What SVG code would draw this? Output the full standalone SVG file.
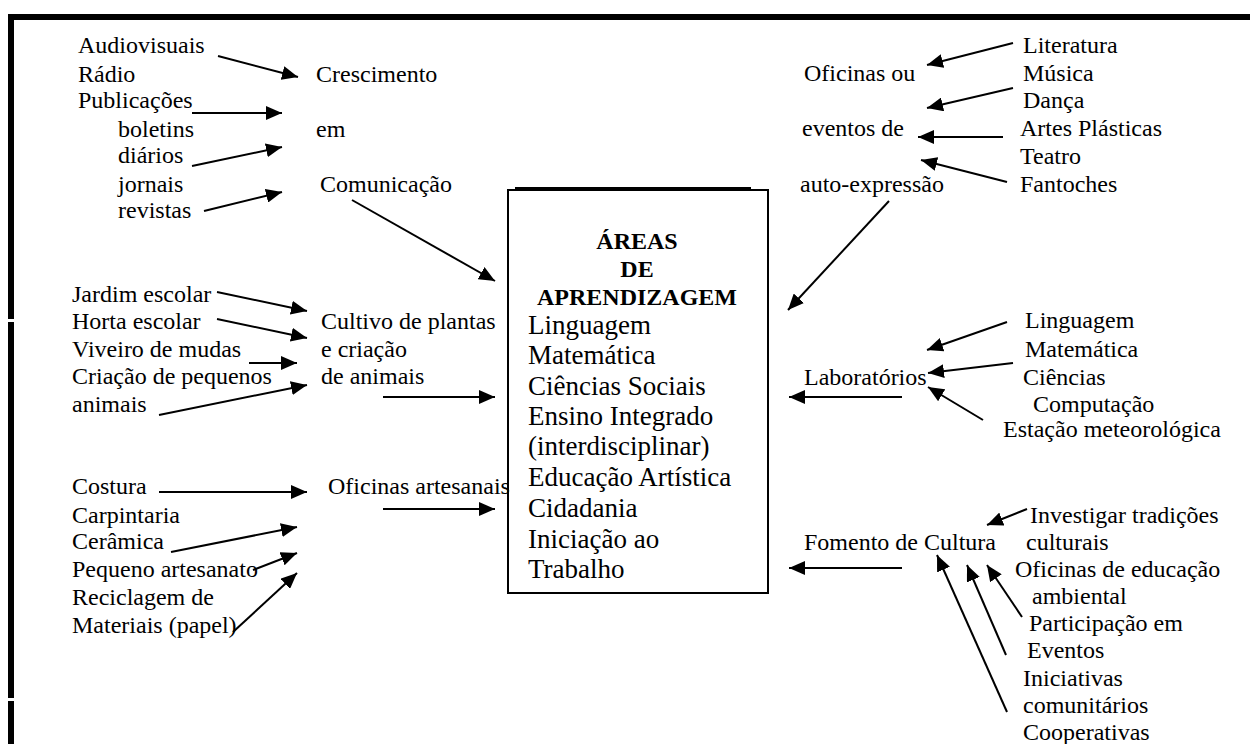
<svg xmlns="http://www.w3.org/2000/svg" width="1250" height="744" viewBox="0 0 1250 744">
<style>
text{font-family:"Liberation Serif","Times New Roman",serif;font-size:24px;fill:#000}
.big{font-size:27px}
.bold{font-weight:bold;font-size:24px}
.c line{stroke:#000;stroke-width:2;marker-end:url(#ah)}
.frame{fill:#000}
</style>
<defs>
<marker id="ah" markerUnits="userSpaceOnUse" markerWidth="17" markerHeight="14" refX="16" refY="7" orient="auto">
<path d="M0,0 L16,7 L0,14 z" fill="#000"/>
</marker>
</defs>
<rect width="1250" height="744" fill="#fff"/>
<g id="frame">
<rect class="frame" x="8" y="14" width="1242" height="6"/>
<rect class="frame" x="8" y="14" width="6" height="305"/>
<rect class="frame" x="8" y="322" width="6" height="376"/>
<rect class="frame" x="8" y="701" width="6" height="43"/>
</g>
<g id="comunicacao-fontes">
<text x="78" y="53">Audiovisuais</text>
<text x="78" y="82">Rádio</text>
<text x="78" y="108">Publicações</text>
<text x="118" y="137">boletins</text>
<text x="118" y="163">diários</text>
<text x="118" y="192">jornais</text>
<text x="118" y="218">revistas</text>
</g>
<g id="crescimento-comunicacao">
<text x="316" y="82">Crescimento</text>
<text x="316" y="137">em</text>
<text x="320" y="192">Comunicação</text>
</g>
<g id="expressao-fontes">
<text x="1023" y="53">Literatura</text>
<text x="1023" y="81">Música</text>
<text x="1023" y="108">Dança</text>
<text x="1020" y="136">Artes Plásticas</text>
<text x="1020" y="164">Teatro</text>
<text x="1020" y="192">Fantoches</text>
</g>
<g id="oficinas-expressao">
<text x="804" y="81">Oficinas ou</text>
<text x="802" y="136">eventos de</text>
<text x="800" y="192">auto-expressão</text>
</g>
<g id="areas">
<rect x="508" y="190" width="260" height="403" fill="none" stroke="#000" stroke-width="2"/>
<line x1="515" y1="188" x2="751" y2="188" stroke="#000" stroke-width="2"/>
<text class="bold" x="637" y="249" text-anchor="middle">ÁREAS</text>
<text class="bold" x="637" y="277" text-anchor="middle">DE</text>
<text class="bold" x="637" y="305" text-anchor="middle">APRENDIZAGEM</text>
<text class="big" x="528" y="334">Linguagem</text>
<text class="big" x="528" y="364">Matemática</text>
<text class="big" x="528" y="395">Ciências Sociais</text>
<text class="big" x="528" y="425">Ensino Integrado</text>
<text class="big" x="528" y="455">(interdisciplinar)</text>
<text class="big" x="528" y="486">Educação Artística</text>
<text class="big" x="528" y="517">Cidadania</text>
<text class="big" x="528" y="548">Iniciação ao</text>
<text class="big" x="528" y="578">Trabalho</text>
</g>
<g id="cultivo-fontes">
<text x="72" y="302">Jardim escolar</text>
<text x="72" y="329">Horta escolar</text>
<text x="72" y="357">Viveiro de mudas</text>
<text x="72" y="384">Criação de pequenos</text>
<text x="72" y="412">animais</text>
</g>
<g id="cultivo">
<text x="321" y="329">Cultivo de plantas</text>
<text x="321" y="357">e criação</text>
<text x="321" y="384">de animais</text>
</g>
<g id="laboratorios-fontes">
<text x="1025" y="328">Linguagem</text>
<text x="1025" y="357">Matemática</text>
<text x="1023" y="385">Ciências</text>
<text x="1033" y="412">Computação</text>
<text x="1003" y="437">Estação meteorológica</text>
</g>
<g id="laboratorios">
<text x="804" y="385">Laboratórios</text>
</g>
<g id="artesanato-fontes">
<text x="72" y="494">Costura</text>
<text x="72" y="523">Carpintaria</text>
<text x="72" y="549">Cerâmica</text>
<text x="72" y="577">Pequeno artesanato</text>
<text x="72" y="605">Reciclagem de</text>
<text x="72" y="633">Materiais (papel)</text>
</g>
<g id="oficinas-artesanais">
<text x="328" y="494">Oficinas artesanais</text>
</g>
<g id="cultura-fontes">
<text x="1030" y="523">Investigar tradições</text>
<text x="1026" y="550">culturais</text>
<text x="1015" y="577">Oficinas de educação</text>
<text x="1032" y="604">ambiental</text>
<text x="1029" y="631">Participação em</text>
<text x="1027" y="658">Eventos</text>
<text x="1023" y="686">Iniciativas</text>
<text x="1023" y="713">comunitários</text>
<text x="1023" y="740">Cooperativas</text>
</g>
<g id="fomento-cultura">
<text x="804" y="550">Fomento de Cultura</text>
</g>
<g id="connectors" class="c">
<line x1="218" y1="56" x2="298" y2="77"/>
<line x1="192" y1="113" x2="282" y2="113"/>
<line x1="192" y1="166" x2="282" y2="147"/>
<line x1="204" y1="211" x2="282" y2="192"/>
<line x1="352" y1="200" x2="495" y2="281"/>
<line x1="1013" y1="43" x2="927" y2="65"/>
<line x1="1013" y1="88" x2="927" y2="108"/>
<line x1="1003" y1="137" x2="918" y2="137"/>
<line x1="1007" y1="182" x2="921" y2="160"/>
<line x1="889" y1="201" x2="788" y2="310"/>
<line x1="217" y1="292" x2="307" y2="311"/>
<line x1="217" y1="319" x2="307" y2="338"/>
<line x1="249" y1="363" x2="297" y2="363"/>
<line x1="159" y1="415" x2="307" y2="385"/>
<line x1="383" y1="397" x2="495" y2="397"/>
<line x1="1007" y1="322" x2="927" y2="350"/>
<line x1="1013" y1="363" x2="928" y2="373"/>
<line x1="983" y1="420" x2="928" y2="387"/>
<line x1="902" y1="397" x2="789" y2="397"/>
<line x1="159" y1="492" x2="307" y2="492"/>
<line x1="171" y1="552" x2="297" y2="527"/>
<line x1="253" y1="570" x2="297" y2="553"/>
<line x1="233" y1="632" x2="297" y2="573"/>
<line x1="383" y1="509" x2="495" y2="509"/>
<line x1="1027" y1="509" x2="987" y2="525"/>
<line x1="902" y1="568" x2="789" y2="568"/>
<line x1="1022" y1="617" x2="987" y2="565"/>
<line x1="1006" y1="655" x2="967" y2="565"/>
<line x1="1007" y1="712" x2="937" y2="555"/>
</g>
</svg>
